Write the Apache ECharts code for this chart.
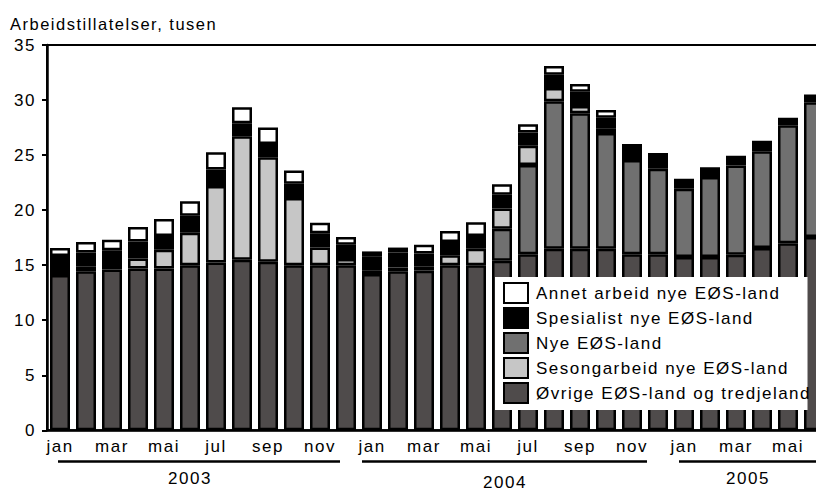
<!DOCTYPE html>
<html><head><meta charset="utf-8">
<script src="https://cdn.jsdelivr.net/npm/echarts@6/dist/echarts.min.js"></script>
<style>
html,body{margin:0;padding:0;background:#fff;}
#c{width:816px;height:490px;}
#c svg text{letter-spacing:1.5px;}
</style></head><body><div id="c"></div>
<script>
const years = ['2003', '2004', '2005'];
const monthsPerYear = [12, 12, 6];
const monthNames = ['jan','feb','mar','apr','mai','jun','jul','aug','sep','okt','nov','des'];

const ovrige = [14.1, 14.45, 14.6, 14.7, 14.7, 15.0, 15.25, 15.5, 15.3, 15.0, 15.0, 15.0,
                14.2, 14.45, 14.5, 15.0, 15.0, 15.4, 16.0, 16.5, 16.5, 16.5, 16.0, 16.0,
                15.75, 15.75, 15.95, 16.55, 17.0, 17.55];
const nye = [null, null, null, null, null, null, null, null, null, null, null, null,
             null, null, null, null, null, 2.9, 8.1, 13.4, 12.3, 10.5, 8.55, 7.75,
             6.2, 7.25, 8.1, 8.8, 10.7, 12.25];
const sesong = [null, 0.4, null, 0.9, 1.7, 2.95, 6.95, 11.2, 9.5, 6.1, 1.6, 0.55,
                0.3, 0.35, 0.35, 0.9, 1.5, 1.85, 1.75, 1.2, 0.65, 0.4, null, null,
                null, null, null, null, null, null];
const spesialist = [1.73, 1.3, 1.75, 1.56, 1.25, 1.55, 1.5, 1.2, 1.2, 1.3, 1.3, 1.3,
                    1.3, 1.35, 1.2, 1.2, 1.15, 1.25, 1.2, 1.2, 1.3, 1.0, 1.45, 1.45,
                    0.9, 0.9, 0.9, 0.95, 0.7, 0.7];
const annet = [0.72, 0.96, 0.95, 1.3, 1.55, 1.3, 1.55, 1.45, 1.5, 1.2, 0.95, 0.7,
               0.45, 0.45, 0.8, 1.0, 1.25, 0.95, 0.75, 0.8, 0.7, 0.7, null, null,
               null, null, null, null, null, null];
const yTicks = {min: 0, max: 35, interval: 5};
const titleText = 'Arbeidstillatelser, tusen';
const names = ['Øvrige EØS-land og tredjeland', 'Nye EØS-land', 'Sesongarbeid nye EØS-land',
               'Spesialist nye EØS-land', 'Annet arbeid nye EØS-land'];

const categories = [];
years.forEach((y, yi) => {
  for (let m = 0; m < monthsPerYear[yi]; m++) categories.push(monthNames[m] + ' ' + y);
});

const FONT = '"Liberation Sans", Arial, sans-serif';
const colors = ['#4f4b4b', '#707070', '#c6c6c6', '#000000', '#ffffff'];
const seriesData = [ovrige, nye, sesong, spesialist, annet];

const chart = echarts.init(document.getElementById('c'), null, {renderer: 'svg'});
chart.setOption({
  animation: false,
  backgroundColor: '#fff',
  textStyle: {fontFamily: FONT, color: '#000'},
  title: {text: titleText, left: 5, top: 10,
          textStyle: {fontSize: 16.5, fontWeight: 'normal', color: '#000', fontFamily: FONT}},
  grid: {left: 47, top: 45, width: 780, height: 385.3, show: true,
         outerBoundsMode: 'none', containLabel: false,
         borderColor: '#000', borderWidth: 2, backgroundColor: 'transparent'},
  legend: {
    orient: 'vertical', left: 495, top: 277,
    data: [names[4], names[3], names[1], names[2], names[0]],
    icon: 'rect', itemWidth: 24, itemHeight: 20, itemGap: 3,
    backgroundColor: '#fff', padding: [5, 40, 6, 8], selectedMode: false,
    textStyle: {fontSize: 17, color: '#000', fontFamily: FONT, padding: [0, 0, 0, 3]}
  },
  xAxis: {
    type: 'category', data: categories,
    axisLine: {lineStyle: {color: '#000', width: 2.5}},
    axisTick: {show: false},
    axisLabel: {interval: 1, margin: 8, fontSize: 17, color: '#000', fontFamily: FONT,
                formatter: v => v.split(' ')[0]}
  },
  yAxis: {
    type: 'value', min: yTicks.min, max: yTicks.max, interval: yTicks.interval,
    axisLine: {show: true, lineStyle: {color: '#000', width: 2.5}},
    axisTick: {show: true, length: 5, lineStyle: {color: '#000', width: 2}},
    splitLine: {show: false},
    axisLabel: {margin: 11, fontSize: 17, color: '#000', fontFamily: FONT}
  },
  series: seriesData.map((d, i) => ({
    name: names[i], type: 'bar', stack: 'total', data: d, barWidth: 20,
    itemStyle: {color: colors[i], borderColor: '#000', borderWidth: 2.5}
  }))
});

// year bands under the month labels
const c0 = chart.convertToPixel({xAxisIndex: 0}, 0);
const c1 = chart.convertToPixel({xAxisIndex: 0}, 1);
const half = (c1 - c0) / 2;
const lineInsetL = [11, 3, 8], lineInsetR = [19, 24, -10];
const labelDx = [-13, -10, -1], labelY = [478, 482, 478];
const graphics = [];
let start = 0;
years.forEach((y, yi) => {
  const end = start + monthsPerYear[yi] - 1;
  const left = chart.convertToPixel({xAxisIndex: 0}, start) - half;
  const right = chart.convertToPixel({xAxisIndex: 0}, end) + half;
  graphics.push({type: 'line', shape: {x1: left + lineInsetL[yi], y1: 461.5, x2: right - lineInsetR[yi], y2: 461.5},
                 style: {stroke: '#000', lineWidth: 2.5}});
  graphics.push({type: 'text', x: (left + right) / 2 + labelDx[yi], y: labelY[yi],
                 style: {text: y, fontSize: 17, fontFamily: FONT, fill: '#000',
                         textAlign: 'center', textVerticalAlign: 'middle'}});
  start = end + 1;
});
chart.setOption({graphic: graphics});
</script></body></html>
